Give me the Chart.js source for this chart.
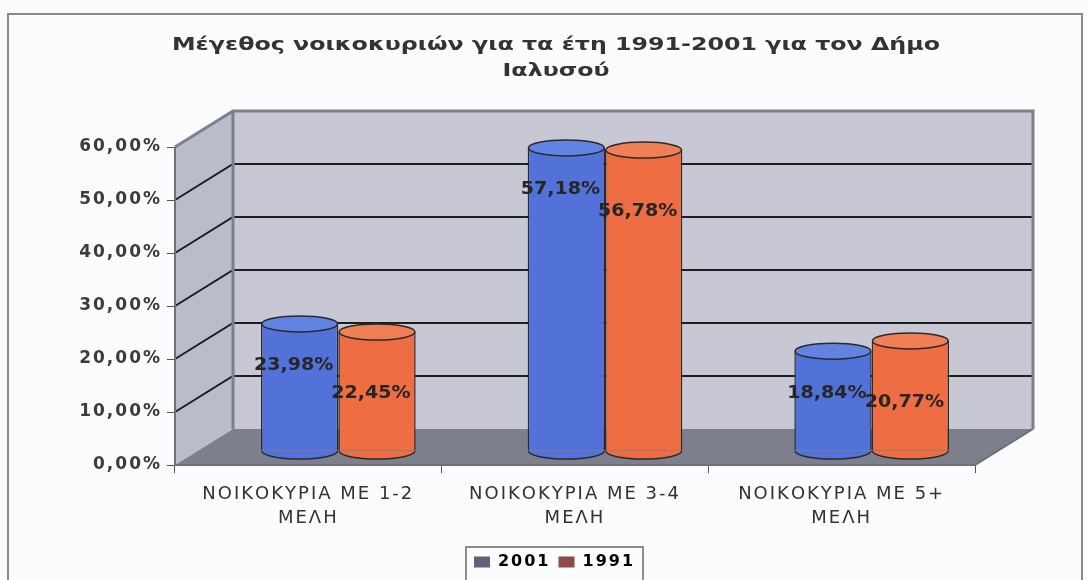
<!DOCTYPE html>
<html>
<head>
<meta charset="utf-8">
<script src="https://cdn.jsdelivr.net/npm/chart.js@4"></script>
<style>
  html, body { margin: 0; padding: 0; background: #fafcfd; }
  #wrap { width: 1088px; height: 580px; position: relative; }
</style>
</head>
<body>
<div id="wrap"><canvas id="chart1"></canvas></div>
<script>
const titleLines = ['Μέγεθος νοικοκυριών για τα έτη 1991-2001 για τον Δήμο', 'Ιαλυσού'];
const categories = [['ΝΟΙΚΟΚΥΡΙΑ ΜΕ 1-2', 'ΜΕΛΗ'], ['ΝΟΙΚΟΚΥΡΙΑ ΜΕ 3-4', 'ΜΕΛΗ'], ['ΝΟΙΚΟΚΥΡΙΑ ΜΕ 5+', 'ΜΕΛΗ']];
const values2001 = [23.98, 57.18, 18.84];
const values1991 = [22.45, 56.78, 20.77];
const yTicks = [0, 10, 20, 30, 40, 50, 60];

const FONT = '"DejaVu Sans", "Liberation Sans", Arial, sans-serif';
const depth = { x: 58, y: -36 };   // back wall offset
const shift = { x: 30, y: -14 };   // bars sit halfway into the box
const labelDrop = [42, 62];        // label distance below bar top, per series

function pct(v) {
  return v.toFixed(2).replace('.', ',') + '%';
}

// the scanned text is wide, so space the letters out a bit
function spaced(ctx) {
  ctx.letterSpacing = '2px';
}

// text stretched only horizontally
function wideText(ctx, text, x, y, sx) {
  ctx.save();
  ctx.translate(x, y);
  ctx.scale(sx, 1);
  ctx.fillText(text, 0, 0);
  ctx.restore();
}

const box3d = {
  id: 'box3d',
  beforeUpdate(chart) { spaced(chart.ctx); },
  afterLayout(chart) {
    // centre the legend under the whole picture, not under the axis block
    const lg = chart.legend;
    lg.left += 67; lg.right += 67;
    if (lg.adjustHitBoxes) lg.adjustHitBoxes();
  },
  beforeDraw(chart) {
    const ctx = chart.ctx;
    spaced(ctx);
    ctx.save();
    ctx.strokeStyle = '#8a8a8a';
    ctx.lineWidth = 2;
    ctx.strokeRect(8, 14, 1074, 580);
    ctx.restore();
  },
  beforeDatasetsDraw(chart) {
    const ctx = chart.ctx;
    const a = chart.chartArea;
    const y = chart.scales.y;
    const L = a.left, R = a.right, T = y.getPixelForValue(60), B = y.getPixelForValue(0);
    const dx = depth.x, dy = depth.y;
    ctx.save();
    // back wall
    ctx.fillStyle = '#c7c8d4';
    ctx.fillRect(L + dx, T + dy, R - L, B - T);
    // side wall
    ctx.fillStyle = '#bbbcca';
    ctx.beginPath();
    ctx.moveTo(L, T); ctx.lineTo(L + dx, T + dy); ctx.lineTo(L + dx, B + dy); ctx.lineTo(L, B);
    ctx.closePath(); ctx.fill();
    // floor
    ctx.fillStyle = '#7d7f8d';
    ctx.beginPath();
    ctx.moveTo(L, B); ctx.lineTo(L + dx, B + dy); ctx.lineTo(R + dx, B + dy); ctx.lineTo(R, B);
    ctx.closePath(); ctx.fill();
    // grid lines
    ctx.strokeStyle = '#1e1e1e';
    ctx.lineWidth = 2;
    yTicks.forEach(v => {
      if (v === 0 || v === 60) return;
      const py = y.getPixelForValue(v);
      ctx.beginPath();
      ctx.moveTo(L, py); ctx.lineTo(L + dx, py + dy); ctx.lineTo(R + dx, py + dy);
      ctx.stroke();
    });
    // wall edges
    ctx.strokeStyle = '#7e7f8e';
    ctx.lineWidth = 3;
    ctx.beginPath();
    ctx.moveTo(L, T); ctx.lineTo(L + dx, T + dy); ctx.lineTo(R + dx, T + dy); ctx.lineTo(R + dx, B + dy);
    ctx.moveTo(L + dx, T + dy); ctx.lineTo(L + dx, B + dy);
    ctx.stroke();
    ctx.lineWidth = 2;
    ctx.strokeStyle = '#6e6f7c';
    ctx.beginPath();
    ctx.moveTo(L, T); ctx.lineTo(L, B); ctx.lineTo(R, B); ctx.lineTo(R + dx, B + dy);
    ctx.stroke();
    // bars move into the box
    ctx.translate(shift.x, shift.y);
  },
  afterDatasetDraw(chart, args) {
    const ctx = chart.ctx;
    const ds = chart.data.datasets[args.index];
    const base = chart.scales.y.getPixelForValue(0);
    args.meta.data.forEach(bar => {
      const rx = bar.width / 2, ry = 8;
      ctx.save();
      ctx.strokeStyle = '#2a2a2a';
      ctx.lineWidth = 1.5;
      // rounded bottom
      ctx.fillStyle = ds.backgroundColor;
      ctx.beginPath();
      ctx.ellipse(bar.x, base, rx - 0.75, ry, 0, 0, Math.PI);
      ctx.fill(); ctx.stroke();
      // top cap
      ctx.fillStyle = ds.capColor;
      ctx.beginPath();
      ctx.ellipse(bar.x, bar.y, rx - 0.75, ry, 0, 0, Math.PI * 2);
      ctx.fill(); ctx.stroke();
      ctx.restore();
    });
  },
  afterDatasetsDraw(chart) {
    const ctx = chart.ctx;
    ctx.font = 'bold 17px ' + FONT;
    ctx.letterSpacing = '0px';
    ctx.fillStyle = '#262626';
    ctx.textAlign = 'center';
    ctx.textBaseline = 'middle';
    chart.data.datasets.forEach((ds, i) => {
      chart.getDatasetMeta(i).data.forEach((bar, j) => {
        wideText(ctx, pct(ds.data[j]), bar.x - 6, bar.y + labelDrop[i], 1.12);
      });
    });
    ctx.restore();
  },
  afterDraw(chart) {
    const ctx = chart.ctx;
    // title, stretched to the scanned width
    ctx.save();
    ctx.font = 'bold 17px ' + FONT;
    ctx.fillStyle = '#333';
    ctx.textAlign = 'center';
    ctx.textBaseline = 'middle';
    ctx.letterSpacing = '0px';
    const sx = 768 / ctx.measureText(titleLines[0]).width;
    wideText(ctx, titleLines[0], 556, 46, sx);
    wideText(ctx, titleLines[1], 556, 72, sx);
    ctx.restore();
    // legend frame
    const hb = chart.legend.legendHitBoxes;
    if (hb && hb.length) {
      const l = hb[0].left - 8;
      const last = hb[hb.length - 1];
      const r = last.left + last.width + 8;
      ctx.save();
      ctx.strokeStyle = '#6a6a6a';
      ctx.lineWidth = 1.5;
      ctx.strokeRect(l, chart.legend.top + 1, r - l, chart.legend.height + 6);
      ctx.restore();
    }
  }
};

new Chart(document.getElementById('chart1'), {
  type: 'bar',
  data: {
    labels: categories,
    datasets: [{
      label: '2001',
      data: values2001,
      backgroundColor: '#5372d9',
      capColor: '#6283e2',
      legendColor: '#5f6178',
      borderColor: '#2a2a2a',
      borderWidth: { left: 1.5, right: 1.5, top: 0, bottom: 0 },
      clip: false
    }, {
      label: '1991',
      data: values1991,
      backgroundColor: '#ee6d42',
      capColor: '#f17f55',
      legendColor: '#8e4a46',
      borderColor: '#2a2a2a',
      borderWidth: { left: 1.5, right: 1.5, top: 0, bottom: 0 },
      clip: false
    }]
  },
  options: {
    responsive: true,
    maintainAspectRatio: false,
    animation: false,
    layout: { padding: { left: 0, right: 113, top: 147, bottom: 0 } },
    datasets: {
      bar: { categoryPercentage: 0.58, barPercentage: 1, grouped: true }
    },
    scales: {
      x: {
        offset: true,
        grid: { display: true, drawOnChartArea: false, tickLength: 8, color: '#555', offset: true },
        border: { display: false },
        ticks: {
          padding: 9,
          color: '#333',
          maxRotation: 0,
          font: { family: FONT, size: 18, lineHeight: 1.33 }
        },
        afterFit(s) { s.height = 81; }
      },
      y: {
        min: 0,
        max: 60,
        afterBuildTicks(s) { s.ticks = yTicks.map(v => ({ value: v })); },
        grid: { drawOnChartArea: false, tickLength: 8, color: '#555' },
        border: { display: false },
        ticks: {
          padding: 5,
          color: '#3c3c3c',
          font: { family: FONT, size: 17, weight: 'bold' },
          callback: v => pct(v)
        },
        afterFit(s) { s.width = 175; }
      }
    },
    plugins: {
      title: { display: false },
      legend: {
        position: 'bottom',
        labels: {
          boxWidth: 16,
          boxHeight: 11,
          padding: 8,
          color: '#333',
          font: { family: FONT, size: 16, weight: 'bold' },
          generateLabels(chart) {
            return chart.data.datasets.map((ds, i) => ({
              text: ds.label,
              fillStyle: ds.legendColor,
              strokeStyle: ds.legendColor,
              lineWidth: 0,
              datasetIndex: i
            }));
          }
        }
      },
      tooltip: { enabled: false }
    }
  },
  plugins: [box3d]
});
</script>
</body>
</html>
